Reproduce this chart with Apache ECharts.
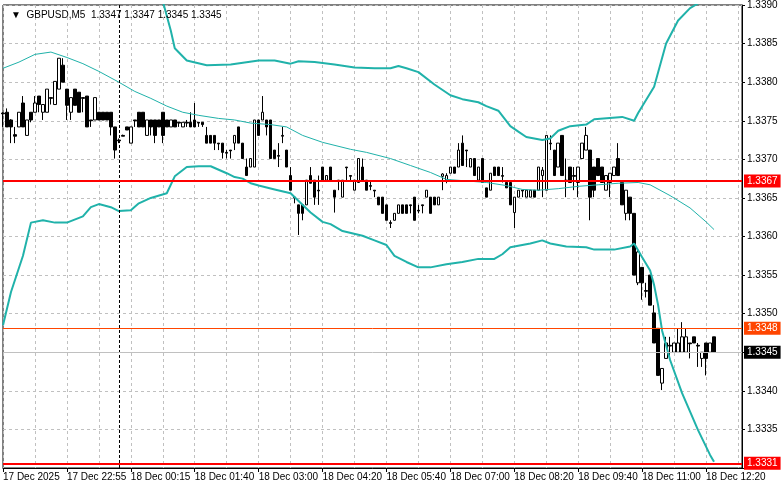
<!DOCTYPE html>
<html><head><meta charset="utf-8">
<script src="https://cdn.jsdelivr.net/npm/echarts@6/dist/echarts.min.js"></script>
<style>html,body{margin:0;padding:0;background:#fff}#c{width:781px;height:489px}</style>
</head><body><div id="c"></div>
<script>
const tickLabels = ['17 Dec 2025','17 Dec 22:55','18 Dec 00:15','18 Dec 01:40','18 Dec 03:00','18 Dec 04:20','18 Dec 05:40','18 Dec 07:00','18 Dec 08:20','18 Dec 09:40','18 Dec 11:00','18 Dec 12:20'];
const titleText = 'GBPUSD,M5  1.3347 1.3347 1.3345 1.3345';

const open = [
1.33760,1.33761,1.33751,1.33732,1.33742,1.33773,1.33731,1.33761,1.33761,1.33782,
1.33761,1.33761,1.33780,1.33771,1.33791,1.33822,1.33791,1.33761,1.33791,1.33787,
1.33780,1.33782,1.33751,1.33751,1.33761,1.33761,1.33761,1.33761,1.33742,1.33725,
1.33731,1.33742,1.33721,1.33751,1.33761,1.33761,1.33731,1.33751,1.33751,1.33751,
1.33761,1.33751,1.33742,1.33751,1.33748,1.33742,1.33748,1.33748,1.33751,1.33748,
1.33748,1.33731,1.33731,1.33731,1.33721,1.33721,1.33709,1.33712,1.33721,1.33742,
1.33721,1.33690,1.33690,1.33690,1.33751,1.33751,1.33751,1.33751,1.33712,1.33705,
1.33731,1.33712,1.33679,1.33651,1.33641,1.33641,1.33641,1.33679,1.33673,1.33660,
1.33690,1.33673,1.33690,1.33660,1.33673,1.33651,1.33690,1.33679,1.33660,1.33670,
1.33690,1.33673,1.33666,1.33660,1.33651,1.33651,1.33641,1.33618,1.33621,1.33630,
1.33641,1.33641,1.33641,1.33651,1.33634,1.33641,1.33651,1.33651,1.33651,1.33641,
1.33678,1.33673,1.33682,1.33690,1.33690,1.33721,1.33712,1.33690,1.33701,1.33673,
1.33701,1.33663,1.33660,1.33690,1.33690,1.33679,1.33670,1.33670,1.33631,1.33651,
1.33660,1.33651,1.33651,1.33660,1.33660,1.33679,1.33660,1.33721,1.33712,1.33690,
1.33731,1.33673,1.33690,1.33679,1.33670,1.33701,1.33712,1.33712,1.33690,1.33701,
1.33690,1.33660,1.33670,1.33679,1.33701,1.33670,1.33630,1.33651,1.33630,1.33540,
1.33560,1.33530,1.33550,1.33501,1.33481,1.33410,1.33442,1.33459,1.33450,1.33450,
1.33450,1.33450,1.33462,1.33470,1.33459,1.33442,1.33462,1.33450,1.33470];
const close = [
1.33759,1.33742,1.33742,1.33730,1.33761,1.33742,1.33751,1.33751,1.33773,1.33771,
1.33771,1.33791,1.33779,1.33801,1.33831,1.33800,1.33770,1.33780,1.33770,1.33761,
1.33779,1.33742,1.33750,1.33780,1.33751,1.33751,1.33751,1.33742,1.33712,1.33724,
1.33730,1.33738,1.33742,1.33750,1.33742,1.33742,1.33751,1.33742,1.33731,1.33742,
1.33731,1.33742,1.33751,1.33742,1.33747,1.33748,1.33747,1.33742,1.33742,1.33747,
1.33745,1.33721,1.33721,1.33721,1.33720,1.33709,1.33708,1.33711,1.33731,1.33721,
1.33701,1.33679,1.33701,1.33751,1.33731,1.33761,1.33742,1.33701,1.33701,1.33704,
1.33730,1.33690,1.33660,1.33650,1.33630,1.33630,1.33673,1.33669,1.33651,1.33659,
1.33673,1.33679,1.33673,1.33651,1.33672,1.33673,1.33689,1.33678,1.33673,1.33701,
1.33673,1.33660,1.33665,1.33659,1.33641,1.33630,1.33621,1.33617,1.33630,1.33641,
1.33630,1.33630,1.33640,1.33621,1.33633,1.33640,1.33660,1.33630,1.33641,1.33651,
1.33681,1.33679,1.33690,1.33682,1.33712,1.33692,1.33711,1.33701,1.33679,1.33690,
1.33670,1.33651,1.33682,1.33679,1.33679,1.33678,1.33663,1.33641,1.33651,1.33660,
1.33659,1.33660,1.33660,1.33651,1.33690,1.33686,1.33731,1.33720,1.33679,1.33721,
1.33679,1.33672,1.33670,1.33678,1.33690,1.33721,1.33731,1.33651,1.33660,1.33679,
1.33670,1.33679,1.33682,1.33690,1.33679,1.33641,1.33660,1.33630,1.33550,1.33580,
1.33540,1.33529,1.33511,1.33462,1.33420,1.33429,1.33462,1.33458,1.33462,1.33462,
1.33470,1.33470,1.33461,1.33462,1.33458,1.33450,1.33442,1.33462,1.33450];
const low = [
1.33742,1.33742,1.33721,1.33721,1.33742,1.33742,1.33731,1.33748,1.33761,1.33761,
1.33751,1.33761,1.33771,1.33771,1.33791,1.33800,1.33751,1.33751,1.33770,1.33761,
1.33761,1.33742,1.33742,1.33751,1.33751,1.33751,1.33751,1.33731,1.33701,1.33721,
1.33730,1.33738,1.33721,1.33742,1.33742,1.33742,1.33731,1.33731,1.33721,1.33742,
1.33721,1.33742,1.33742,1.33742,1.33742,1.33742,1.33742,1.33742,1.33742,1.33742,
1.33742,1.33721,1.33721,1.33712,1.33712,1.33701,1.33701,1.33701,1.33712,1.33721,
1.33701,1.33679,1.33690,1.33690,1.33731,1.33751,1.33731,1.33701,1.33701,1.33690,
1.33721,1.33690,1.33660,1.33643,1.33602,1.33621,1.33641,1.33669,1.33641,1.33641,
1.33673,1.33673,1.33673,1.33631,1.33660,1.33651,1.33673,1.33673,1.33660,1.33670,
1.33673,1.33660,1.33660,1.33651,1.33641,1.33630,1.33621,1.33611,1.33621,1.33630,
1.33630,1.33630,1.33630,1.33621,1.33630,1.33630,1.33651,1.33630,1.33641,1.33641,
1.33660,1.33669,1.33682,1.33682,1.33690,1.33692,1.33690,1.33690,1.33679,1.33673,
1.33670,1.33651,1.33660,1.33679,1.33679,1.33670,1.33663,1.33641,1.33611,1.33651,
1.33651,1.33651,1.33651,1.33651,1.33660,1.33651,1.33660,1.33712,1.33679,1.33690,
1.33679,1.33651,1.33670,1.33660,1.33651,1.33701,1.33712,1.33621,1.33651,1.33679,
1.33670,1.33660,1.33651,1.33679,1.33679,1.33641,1.33621,1.33621,1.33550,1.33537,
1.33518,1.33521,1.33511,1.33462,1.33420,1.33401,1.33442,1.33442,1.33450,1.33450,
1.33450,1.33450,1.33442,1.33462,1.33431,1.33431,1.33420,1.33450,1.33450];
const high = [
1.33761,1.33766,1.33752,1.33742,1.33761,1.33782,1.33751,1.33761,1.33782,1.33782,
1.33771,1.33791,1.33780,1.33801,1.33831,1.33831,1.33791,1.33780,1.33791,1.33787,
1.33780,1.33782,1.33751,1.33780,1.33761,1.33761,1.33761,1.33761,1.33742,1.33727,
1.33732,1.33742,1.33742,1.33751,1.33761,1.33761,1.33751,1.33751,1.33751,1.33751,
1.33761,1.33751,1.33751,1.33751,1.33748,1.33748,1.33751,1.33761,1.33773,1.33748,
1.33748,1.33742,1.33731,1.33731,1.33721,1.33721,1.33712,1.33712,1.33731,1.33742,
1.33721,1.33701,1.33701,1.33751,1.33751,1.33782,1.33751,1.33751,1.33712,1.33721,
1.33742,1.33712,1.33690,1.33652,1.33641,1.33641,1.33673,1.33690,1.33673,1.33679,
1.33690,1.33679,1.33690,1.33660,1.33673,1.33673,1.33690,1.33679,1.33673,1.33701,
1.33701,1.33673,1.33673,1.33660,1.33651,1.33651,1.33641,1.33621,1.33630,1.33641,
1.33641,1.33641,1.33641,1.33651,1.33641,1.33641,1.33660,1.33651,1.33651,1.33651,
1.33682,1.33682,1.33690,1.33690,1.33721,1.33731,1.33712,1.33701,1.33701,1.33690,
1.33701,1.33663,1.33682,1.33690,1.33690,1.33690,1.33670,1.33670,1.33651,1.33660,
1.33660,1.33660,1.33660,1.33660,1.33690,1.33690,1.33731,1.33731,1.33712,1.33721,
1.33731,1.33701,1.33690,1.33690,1.33690,1.33721,1.33742,1.33712,1.33690,1.33701,
1.33690,1.33679,1.33682,1.33690,1.33721,1.33670,1.33660,1.33651,1.33630,1.33582,
1.33560,1.33540,1.33550,1.33511,1.33481,1.33429,1.33470,1.33470,1.33462,1.33481,
1.33489,1.33481,1.33462,1.33470,1.33462,1.33450,1.33462,1.33462,1.33470];

const maLine = [[0,1.33818],[4,1.33826],[8,1.33836],[12,1.33839],[16,1.33832],[20,1.33824],[24,1.33814],[29,1.33800],[33,1.33788],[37,1.33779],[41,1.33769],[45,1.33761],[49,1.33757],[54,1.33753],[58,1.33751],[62,1.33747],[67,1.33745],[71,1.33742],[75,1.33731],[80,1.33722],[87,1.33713],[91,1.33709],[97,1.33701],[102,1.33692],[107,1.33683],[111,1.33674],[116,1.33672],[121,1.33670],[126,1.33666],[130,1.33661],[134,1.33660],[139,1.33662],[144,1.33665],[149,1.33667],[154,1.33669],[159,1.33670],[162,1.33667],[167,1.33653],[172,1.33637],[176,1.33619],[178,1.33609]];
const upperBand = [[38,1.33935],[40,1.33905],[42,1.33867],[43,1.33844],[46,1.33828],[51,1.33822],[57,1.33823],[64,1.33828],[68,1.33828],[72,1.33824],[74,1.33827],[78,1.33826],[83,1.33823],[88,1.33819],[93,1.33818],[97,1.33818],[99,1.33821],[101,1.33818],[104,1.33813],[108,1.33797],[112,1.33783],[115,1.33778],[119,1.33774],[121,1.33769],[124,1.33763],[127,1.33743],[129,1.33736],[131,1.33729],[135,1.33725],[137,1.33727],[139,1.33737],[142,1.33743],[146,1.33745],[148,1.33752],[155,1.33755],[158,1.33750],[159,1.33760],[163,1.33794],[166,1.33850],[169,1.33880],[172,1.33896],[174,1.33902],[176,1.33910],[178,1.33915]];
const lowerBand = [[0,1.33485],[2,1.33528],[5,1.33575],[7,1.33618],[10,1.33621],[13,1.33618],[16,1.33618],[20,1.33626],[22,1.33638],[24,1.33642],[27,1.33638],[29,1.33633],[32,1.33634],[34,1.33643],[37,1.33650],[41,1.33656],[43,1.33678],[46,1.33690],[49,1.33691],[52,1.33691],[56,1.33682],[58,1.33677],[60,1.33675],[62,1.33669],[64,1.33666],[68,1.33661],[72,1.33656],[74,1.33646],[77,1.33631],[80,1.33619],[82,1.33616],[85,1.33607],[90,1.33601],[93,1.33595],[96,1.33589],[98,1.33575],[101,1.33567],[104,1.33560],[107,1.33560],[111,1.33564],[115,1.33567],[119,1.33571],[123,1.33571],[125,1.33577],[127,1.33586],[132,1.33591],[135,1.33595],[137,1.33591],[141,1.33587],[146,1.33586],[148,1.33583],[153,1.33583],[157,1.33587],[158,1.33591],[160,1.33573],[162,1.33556],[163,1.33537],[164,1.33511],[165,1.33478],[167,1.33440],[170,1.33397],[174,1.33349],[177,1.33317],[178,1.33308]];

const levelValues = [1.33672, 1.33481, 1.33450, 1.33306];
const levelColors = ['#ff0000', '#ff4500', '#c0c0c0', '#ff0000'];
const levelBoxColors = ['#ff0000', '#ff4500', '#000000', '#ff0000'];
const levelWidths = [2, 1, 1, 2];
const separatorIndex = 29;

const SLOTS = 186;
const categories = [];
for (let i = 0; i < SLOTS; i++) categories.push('b' + i);
const candles = open.map((o, i) => [o, close[i], low[i], high[i]]);

const FONT = 'Liberation Sans';
const chart = echarts.init(document.getElementById('c'), null, {renderer: 'canvas'});

const levelMarks = levelValues.map((v, k) => ({
  yAxis: v,
  lineStyle: {color: levelColors[k], width: levelWidths[k], type: 'solid'},
  label: {
    show: true, position: 'end', distance: 2,
    formatter: () => v.toFixed(4),
    color: '#fff', backgroundColor: levelBoxColors[k],
    padding: [2, 3, 1, 3], fontSize: 10, fontFamily: FONT
  }
}));
const sepMark = [{
  xAxis: categories[separatorIndex],
  lineStyle: {color: '#000', width: 1, type: [3, 2]},
  label: {show: false}
}];

chart.setOption({
  animation: false,
  backgroundColor: '#fff',
  title: {
    text: '\u25BC  ' + titleText, left: 6, top: 5,
    textStyle: {fontSize: 10, fontWeight: 'normal', fontFamily: FONT, color: '#000'}
  },
  grid: {left: 2, top: 4, width: 740, height: 464, show: true, borderColor: '#000', borderWidth: 1, backgroundColor: '#fff'},
  xAxis: {
    type: 'category', data: categories, boundaryGap: false,
    axisLine: {show: true, lineStyle: {color: '#000', width: 1}},
    axisTick: {show: true, interval: 15, length: 4, lineStyle: {color: '#000'}},
    axisLabel: {
      interval: 15, align: 'left', margin: 4, fontSize: 10, fontFamily: FONT, color: '#000',
      formatter: (v, idx) => tickLabels[Math.round(idx / 16)] || ''
    },
    splitLine: {show: true, interval: 7, lineStyle: {color: '#c0c0c0', type: [3, 3], width: 1}}
  },
  yAxis: {
    type: 'value', position: 'right', min: 1.3330, max: 1.3390, interval: 0.0005, scale: true,
    axisLine: {show: true, lineStyle: {color: '#000', width: 1}},
    axisTick: {show: true, length: 3, lineStyle: {color: '#000'}},
    axisLabel: {
      margin: 5, fontSize: 10, fontFamily: FONT, color: '#000',
      formatter: v => levelValues.some((l, k) => k >= 2 && Math.abs(l - v) < 0.00008) ? '' : v.toFixed(4)
    },
    splitLine: {show: true, lineStyle: {color: '#c0c0c0', type: [3, 3], width: 1}}
  },
  series: [
    {
      type: 'candlestick', data: candles, barWidth: 3,
      itemStyle: {color: '#fff', color0: '#000', borderColor: '#000', borderColor0: '#000', borderWidth: 1},
      markLine: {symbol: 'none', silent: true, animation: false, data: sepMark}
    },
    {type: 'line', data: maLine, showSymbol: false, symbol: 'none', lineStyle: {color: '#20b2aa', width: 1}, z: 4,
      markLine: {symbol: 'none', silent: true, animation: false, precision: 6, data: levelMarks}},
    {type: 'line', data: upperBand, showSymbol: false, symbol: 'none', lineStyle: {color: '#20b2aa', width: 2}, z: 4},
    {type: 'line', data: lowerBand, showSymbol: false, symbol: 'none', lineStyle: {color: '#20b2aa', width: 2}, z: 4}
  ]
});
</script></body></html>
